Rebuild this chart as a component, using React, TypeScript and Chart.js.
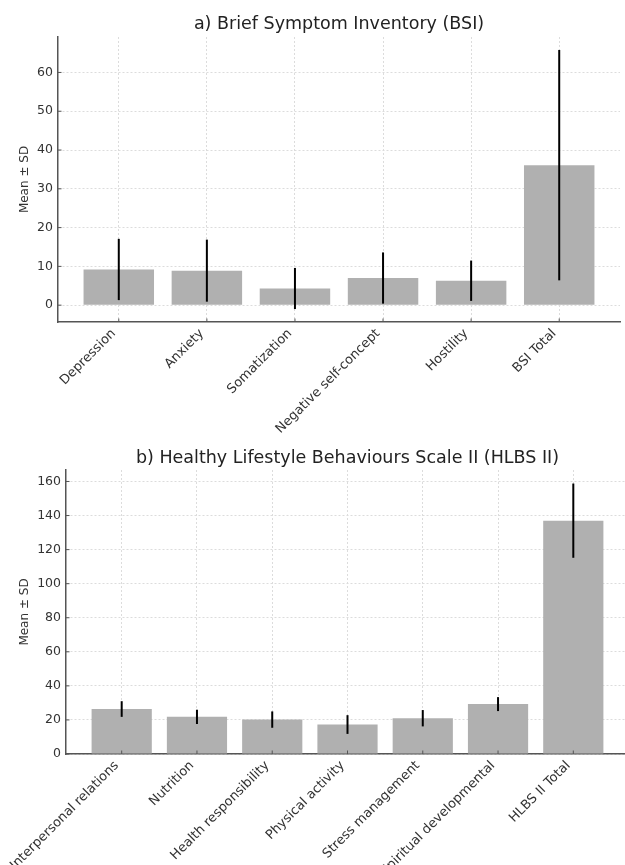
import React, { useEffect, useRef } from "react";
import { Chart, registerables } from "chart.js";

Chart.register(...registerables);

const FONT = "'DejaVu Sans', 'Liberation Sans', sans-serif";

const yLabel = "Mean ± SD";

const bsiTitle = "a) Brief Symptom Inventory (BSI)";
const bsiCategories = [
  "Depression",
  "Anxiety",
  "Somatization",
  "Negative self-concept",
  "Hostility",
  "BSI Total",
];
const bsiMeans = [9.2, 8.9, 4.3, 7.0, 6.3, 36.1];
const bsiSDs = [7.9, 8.0, 5.3, 6.6, 5.2, 29.7];
const bsiYTicks = [0, 10, 20, 30, 40, 50, 60];

const hlbsTitle = "b) Healthy Lifestyle Behaviours Scale II (HLBS II)";
const hlbsCategories = [
  "Interpersonal relations",
  "Nutrition",
  "Health responsibility",
  "Physical activity",
  "Stress management",
  "Spiritual developmental",
  "HLBS II Total",
];
const hlbsMeans = [26.4, 21.8, 20.2, 17.3, 21.0, 29.3, 137.0];
const hlbsSDs = [4.6, 4.2, 4.8, 5.5, 4.8, 4.1, 21.8];
const hlbsYTicks = [0, 20, 40, 60, 80, 100, 120, 140, 160];

const BAR_COLOR = "#b0b0b0";
const AXIS_COLOR = "#555555";
const GRID_COLOR = "#dcdcdc";
const TEXT_COLOR = "#333333";

// matplotlib-like autoscale: 5% margins, bars stick to zero
function yLimits(means: number[], sds: number[]) {
  const lows = means.map((m, i) => m - sds[i]);
  const highs = means.map((m, i) => m + sds[i]);
  const lo = Math.min(0, ...lows);
  const hi = Math.max(0, ...highs);
  const pad = (hi - lo) * 0.05;
  return { min: lo < 0 ? lo - pad : 0, max: hi + pad };
}

function xLimits(n: number) {
  const lo = -0.4;
  const hi = n - 1 + 0.4;
  const pad = (hi - lo) * 0.05;
  return { min: lo - pad, max: hi + pad };
}

const decorPlugin = {
  id: "decor",
  afterDatasetsDraw(chart: any, _args: any, opts: any) {
    const { ctx } = chart;
    const x = chart.scales.x;
    const y = chart.scales.y;
    const means: number[] = opts.means || [];
    const sds: number[] = opts.sds || [];
    ctx.save();
    ctx.strokeStyle = "#000000";
    ctx.lineWidth = 2;
    means.forEach((m, i) => {
      const px = x.getPixelForValue(i);
      ctx.beginPath();
      ctx.moveTo(px, y.getPixelForValue(m - sds[i]));
      ctx.lineTo(px, y.getPixelForValue(m + sds[i]));
      ctx.stroke();
    });
    ctx.restore();
  },
  afterDraw(chart: any) {
    const { ctx, chartArea } = chart;
    const x = chart.scales.x;
    const y = chart.scales.y;
    ctx.save();
    ctx.strokeStyle = AXIS_COLOR;
    ctx.lineWidth = 1;
    x.ticks.forEach((_t: any, i: number) => {
      const px = x.getPixelForTick(i);
      ctx.beginPath();
      ctx.moveTo(px, chartArea.bottom);
      ctx.lineTo(px, chartArea.bottom - 3.5);
      ctx.stroke();
    });
    y.ticks.forEach((_t: any, i: number) => {
      const py = y.getPixelForTick(i);
      ctx.beginPath();
      ctx.moveTo(chartArea.left, py);
      ctx.lineTo(chartArea.left + 3.5, py);
      ctx.stroke();
    });
    ctx.restore();
  },
};

type PanelProps = {
  top: number;
  width: number;
  height: number;
  title: string;
  categories: string[];
  means: number[];
  sds: number[];
  yTicks: number[];
  plotLeft: number;
  padRight: number;
  axisHeight: number;
  titlePadTop: number;
  titlePadBottom: number;
};

function Panel(p: PanelProps) {
  const ref = useRef<HTMLCanvasElement | null>(null);
  useEffect(() => {
    if (!ref.current) return;
    const yl = yLimits(p.means, p.sds);
    const xl = xLimits(p.categories.length);
    const chart = new Chart(ref.current, {
      type: "bar",
      data: {
        datasets: [
          {
            data: p.means.map((m, i) => ({ x: i, y: m })),
            backgroundColor: BAR_COLOR,
            borderWidth: 0,
            barPercentage: 1,
            categoryPercentage: 0.8,
          },
        ],
      },
      plugins: [decorPlugin],
      options: {
        responsive: false,
        animation: false,
        devicePixelRatio: 1,
        layout: { padding: { left: 0, right: p.padRight, top: 0, bottom: 0 } },
        plugins: {
          legend: { display: false },
          tooltip: { enabled: false },
          title: {
            display: true,
            text: p.title,
            fullSize: false,
            color: "#222222",
            font: { family: FONT, size: 17.5, weight: "normal", lineHeight: 1.2 },
            padding: { top: p.titlePadTop, bottom: p.titlePadBottom },
          },
          decor: { means: p.means, sds: p.sds },
        } as any,
        scales: {
          x: {
            type: "linear",
            min: xl.min,
            max: xl.max,
            bounds: "data",
            offset: false,
            afterBuildTicks: (s: any) => {
              s.ticks = p.categories.map((_c, i) => ({ value: i }));
            },
            afterFit: (s: any) => {
              s.height = p.axisHeight;
              s.paddingLeft = 0;
              s.paddingRight = 0;
            },
            grid: { color: GRID_COLOR, lineWidth: 1, drawTicks: false, offset: false },
            border: { display: true, color: AXIS_COLOR, width: 1.5, dash: [2, 2] },
            ticks: {
              autoSkip: false,
              minRotation: 45,
              maxRotation: 45,
              padding: 4,
              labelOffset: -5,
              color: TEXT_COLOR,
              font: { family: FONT, size: 13 },
              callback: (v: any) => p.categories[Number(v)] ?? "",
            },
          },
          y: {
            type: "linear",
            min: yl.min,
            max: yl.max,
            bounds: "data",
            afterBuildTicks: (s: any) => {
              s.ticks = p.yTicks.map((v) => ({ value: v }));
            },
            afterFit: (s: any) => {
              s.width = p.plotLeft;
              s.paddingTop = 0;
              s.paddingBottom = 0;
            },
            grid: { color: GRID_COLOR, lineWidth: 1, drawTicks: false },
            border: { display: true, color: AXIS_COLOR, width: 1.5, dash: [2, 2] },
            ticks: {
              padding: 5,
              color: TEXT_COLOR,
              font: { family: FONT, size: 12.5 },
              callback: (v: any) => String(v),
            },
            title: {
              display: true,
              text: yLabel,
              color: TEXT_COLOR,
              font: { family: FONT, size: 12 },
              padding: { top: 18, bottom: 0 },
            },
          },
        } as any,
      },
    });
    return () => chart.destroy();
  }, []);
  return (
    <canvas
      ref={ref}
      width={p.width}
      height={p.height}
      style={{ position: "absolute", left: 0, top: p.top, display: "block" }}
    />
  );
}

export default function App() {
  return (
    <div
      style={{
        position: "absolute",
        left: 0,
        top: 0,
        width: 625,
        height: 865,
        overflow: "hidden",
        background: "#ffffff",
      }}
    >
      <Panel
        top={0}
        width={625}
        height={435}
        title={bsiTitle}
        categories={bsiCategories}
        means={bsiMeans}
        sds={bsiSDs}
        yTicks={bsiYTicks}
        plotLeft={58}
        padRight={5}
        axisHeight={113}
        titlePadTop={14}
        titlePadBottom={2}
      />
      <Panel
        top={435}
        width={640}
        height={430}
        title={hlbsTitle}
        categories={hlbsCategories}
        means={hlbsMeans}
        sds={hlbsSDs}
        yTicks={hlbsYTicks}
        plotLeft={66}
        padRight={11}
        axisHeight={111}
        titlePadTop={13}
        titlePadBottom={1}
      />
    </div>
  );
}
